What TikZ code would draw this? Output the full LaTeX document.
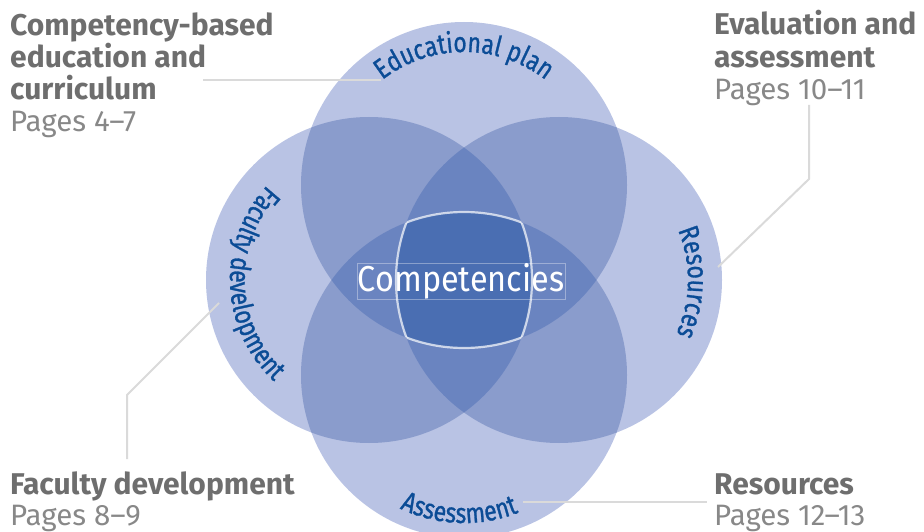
\documentclass[tikz,border=0pt]{standalone}
\usepackage{fontspec}
\setmainfont{Fira Sans}
\newfontfamily\compfamily[FakeStretch=0.9]{Fira Sans}
\newfontfamily\curvefamily[FakeStretch=0.82,FakeBold=1]{Fira Sans}
\usetikzlibrary{decorations.text}
\definecolor{cOne}{HTML}{B9C3E4}
\definecolor{cTwo}{HTML}{8A9CCC}
\definecolor{cThree}{HTML}{6A84C0}
\definecolor{cFour}{HTML}{4A6EB2}
\definecolor{lblue}{HTML}{0B4C96}
\definecolor{hgray}{HTML}{6E6E6E}
\definecolor{pgray}{HTML}{888888}
\definecolor{lgray}{HTML}{DADADA}
\newcommand\curvefont{\curvefamily\fontsize{28}{29}\selectfont}
\tikzset{
  headtext/.style={anchor=base west, inner sep=0pt, text=hgray, font=\fontsize{30}{30}\selectfont\bfseries},
  pagetext/.style={anchor=base west, inner sep=0pt, text=pgray, font=\fontsize{29.5}{30}\selectfont},
  conn/.style={draw=lgray, line width=2pt},
  sqline/.style={draw=white, draw opacity=0.7, line width=2.2pt},
  curvelabel/.style={decorate, decoration={text along path, text align=center, text color=lblue}},
}
\begin{document}
\begin{tikzpicture}[x=1pt,y=1pt]
\useasboundingbox (0,0) rectangle (924,531);
\coordinate (T) at (464,346);
\coordinate (B) at (464,156);
\coordinate (L) at (369,251);
\coordinate (Rc) at (559,251);
% single
\foreach \pa in {T,B,L,Rc} {\fill[cOne] (\pa) circle[radius=163pt];}
% pairs
\foreach \pa/\pb in {T/B,T/L,T/Rc,B/L,B/Rc,L/Rc} {
  \begin{scope}
    \clip (\pa) circle[radius=163pt];
    \fill[cTwo] (\pb) circle[radius=163pt];
  \end{scope}
}
% triples
\foreach \pa/\pb/\pc in {T/B/L,T/B/Rc,T/L/Rc,B/L/Rc} {
  \begin{scope}
    \clip (\pa) circle[radius=163pt];
    \clip (\pb) circle[radius=163pt];
    \fill[cThree] (\pc) circle[radius=163pt];
  \end{scope}
}
% quad
\begin{scope}
  \clip (T) circle[radius=163pt];
  \clip (B) circle[radius=163pt];
  \clip (L) circle[radius=163pt];
  \fill[cFour] (Rc) circle[radius=163pt];
\end{scope}
% outline of the centre region
\foreach \pa/\pb/\pc/\pd in {T/B/L/Rc,B/L/Rc/T,L/Rc/T/B,Rc/T/B/L} {
  \begin{scope}
    \clip (\pb) circle[radius=163pt];
    \clip (\pc) circle[radius=163pt];
    \clip (\pd) circle[radius=163pt];
    \draw[sqline] (\pa) circle[radius=163pt];
  \end{scope}
}
% curved labels
\path[curvelabel, decoration={text={|\curvefont|Educational plan}}]
  ([shift={(150:133pt)}]T) arc[start angle=150, end angle=30, radius=133pt];
\path[curvelabel, decoration={text={|\curvefont|Faculty development}}]
  ([shift={(110:139pt)}]L) arc[start angle=110, end angle=254, radius=139pt];
\path[curvelabel, decoration={text={|\curvefont|Assessment}}]
  ([shift={(223:148pt)}]B) arc[start angle=223, end angle=313, radius=148pt];
\path[curvelabel, decoration={text={|\curvefont|Resources}}]
  ([shift={(45:129pt)}]Rc) arc[start angle=45, end angle=-47, radius=129pt];
% centre label
\node[draw=white, draw opacity=0.35, line width=0.8pt, minimum width=208pt, minimum height=35pt,
      inner sep=0pt, text=white, font=\compfamily\fontsize{36}{36}\selectfont] (comp) at (461,249.5) {Competencies};
% headings
\node[headtext] (h1a) at (10,495) {Competency-based};
\node[headtext] (h1b) at (10,463) {education and};
\node[headtext] (h1c) at (10,431) {curriculum};
\node[pagetext] (p1) at (10,399) {Pages 4--7};
\node[headtext] (h2a) at (714,496) {Evaluation and};
\node[headtext] (h2b) at (714,463) {assessment};
\node[pagetext] (p2) at (714,431) {Pages 10--11};
\node[headtext] (h3a) at (10,37) {Faculty development};
\node[pagetext] (p3) at (10,6) {Pages 8--9};
\node[headtext] (h4a) at (714,37) {Resources};
\node[pagetext] (p4) at (714,6) {Pages 12--13};
% connectors
\coordinate (c1a) at (203,451); \coordinate (c1b) at (381,451);
\coordinate (c2a) at (809,426); \coordinate (c2b) at (809,352); \coordinate (c2c) at (718,264);
\coordinate (c3a) at (127,72);  \coordinate (c3b) at (127,136); \coordinate (c3c) at (219,228);
\coordinate (c4a) at (523,29);  \coordinate (c4b) at (707,29);
\draw[conn] (c1a) -- (c1b);
\draw[conn] (c2a) -- (c2b) -- (c2c);
\draw[conn] (c3a) -- (c3b) -- (c3c);
\draw[conn] (c4a) -- (c4b);
\end{tikzpicture}
\end{document}
